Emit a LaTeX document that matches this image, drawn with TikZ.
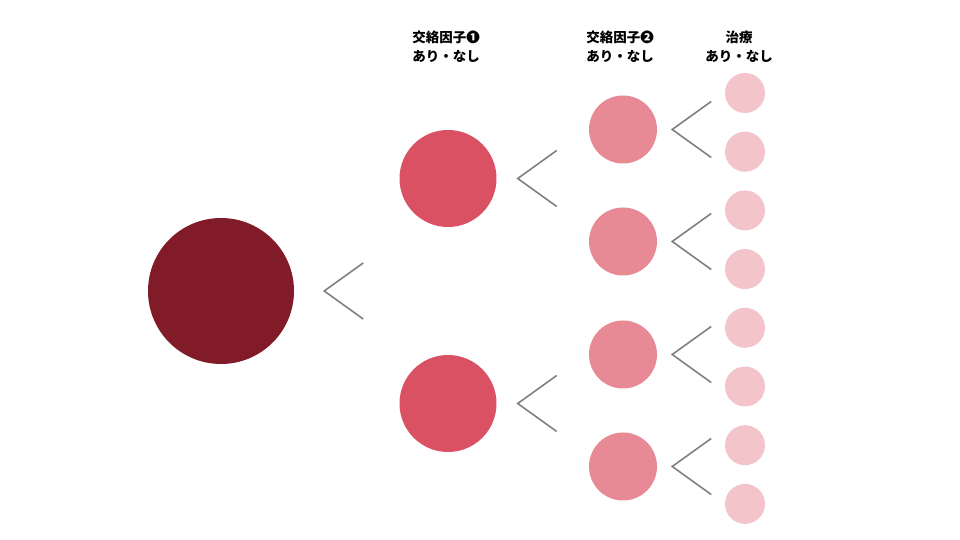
\documentclass[tikz,border=0pt]{standalone}
\usepackage{fontspec}
\newfontfamily\jpfont{Noto Sans CJK JP}
\usetikzlibrary{positioning}
\definecolor{wine}{HTML}{811B28}
\definecolor{rosered}{HTML}{DA5163}
\definecolor{midpink}{HTML}{E88A96}
\definecolor{palepink}{HTML}{F3C5CB}
\begin{document}
\begin{tikzpicture}[x=1pt,y=1pt,grow=right,
	edge from parent/.style={draw=none},
	level 1/.style={level distance=227pt,sibling distance=225pt},
	level 2/.style={level distance=175pt,sibling distance=112pt},
	ball/.style={circle,inner sep=0pt,draw=none},
	big/.style={ball,fill=wine,minimum size=146pt},
	split/.style={ball,fill=rosered,minimum size=97pt},
	mid/.style={ball,fill=midpink,minimum size=68pt,yshift=-7pt},
	leaf/.style={ball,fill=palepink,minimum size=40pt},
	fork/.style={draw=gray,line width=1.6pt},
	head/.style={inner sep=0pt,align=center,font=\jpfont\bfseries\fontsize{13.5}{19}\selectfont}]
	\useasboundingbox (0,0) rectangle (960,540);
	\node [big] (r) at (221,249) {}
	  child {
	    node [split] {}
	    child {
	      node [mid] {}
	    }
	    child {
	      node [mid] {}
	    }
	  }
	  child {
	    node [split] {}
	    child {
	      node [mid] {}
	    }
	    child {
	      node [mid] {}
	    }
	  };
	% treatment leaves
	\node [leaf] (t1) at (745,447) {};
	\foreach \i [count=\j from 2] in {1,...,7}
	  \node [leaf,below=18.3pt of t\i] (t\j) {};
	% forks
	\foreach \n/\g in {r/30,r-1/21,r-2/21,r-1-1/15,r-1-2/15,r-2-1/15,r-2-2/15} {
	  \coordinate (\n-f) at ([xshift=\g pt]\n.east);
	  \coordinate (\n-fa) at ([shift={(39pt,28pt)}]\n-f);
	  \coordinate (\n-fb) at ([shift={(39pt,-28pt)}]\n-f);
	  \draw [fork] (\n-fa) -- (\n-f) -- (\n-fb);
	}
	\node [head] (h1) at (446,493.7) {交絡因子❶\\あり・なし};
	\node [head] (h2) at (620,493.7) {交絡因子❷\\あり・なし};
	\node [head] (h3) at (739,493.7) {治療\\あり・なし};
\end{tikzpicture}
\end{document}
